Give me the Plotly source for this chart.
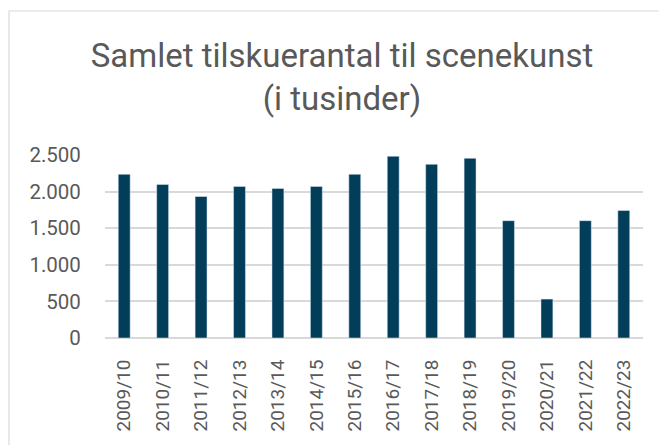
import plotly.graph_objects as go

seasons = ["2009/10", "2010/11", "2011/12", "2012/13", "2013/14", "2014/15", "2015/16",
           "2016/17", "2017/18", "2018/19", "2019/20", "2020/21", "2021/22", "2022/23"]
audience = [2236, 2098, 1933, 2071, 2043, 2071, 2236, 2483, 2373, 2455, 1603, 532, 1603, 1741]
y_ticks = [0, 500, 1000, 1500, 2000, 2500]

FONT = "Roboto, sans-serif"
W, H = 667, 445
OFF = 8  # page body margin
L, R, T, B = 105 - OFF, 32, 155 - OFF, 115
ph = H - T - B
pw = W - L - R

fig = go.Figure(go.Bar(x=seasons, y=audience, marker_color="#023d5a", width=0.31))

fig.update_layout(
    width=W, height=H,
    margin=dict(l=L, r=R, t=T, b=B, autoexpand=False),
    paper_bgcolor="white", plot_bgcolor="white",
    separators=",.",
    showlegend=False,
    font=dict(family=FONT, color="#595959"),
    title=dict(text="Samlet tilskuerantal til scenekunst<br>(i tusinder)",
               x=(342 - OFF) / W, xanchor="center", y=1 - 59 / H, yanchor="top",
               font=dict(size=33, color="#595959", family=FONT)),
    shapes=[dict(type="rect", xref="paper", yref="paper",
                 x0=(9 - OFF - L) / pw, x1=(W + 5 - L) / pw,
                 y0=-(B + 10) / ph, y1=(H - B - (11 - OFF)) / ph,
                 line=dict(color="#d9d9d9", width=1.2), fillcolor="rgba(0,0,0,0)", layer="below")],
)
fig.update_xaxes(tickangle=-90, tickfont=dict(size=19, color="#595959"), automargin=False,
                 showline=False, ticks="outside", ticklen=13, tickcolor="rgba(0,0,0,0)",
                 showgrid=False)
fig.update_yaxes(range=[0, 2500], tickvals=y_ticks, tickformat=",d", automargin=False,
                 tickfont=dict(size=20.5, color="#595959"),
                 gridcolor="#d9d9d9", gridwidth=1.5, zeroline=True, zerolinecolor="#d9d9d9",
                 zerolinewidth=1.5, ticks="outside", ticklen=19, tickcolor="rgba(0,0,0,0)")

fig.write_html("out.html")
